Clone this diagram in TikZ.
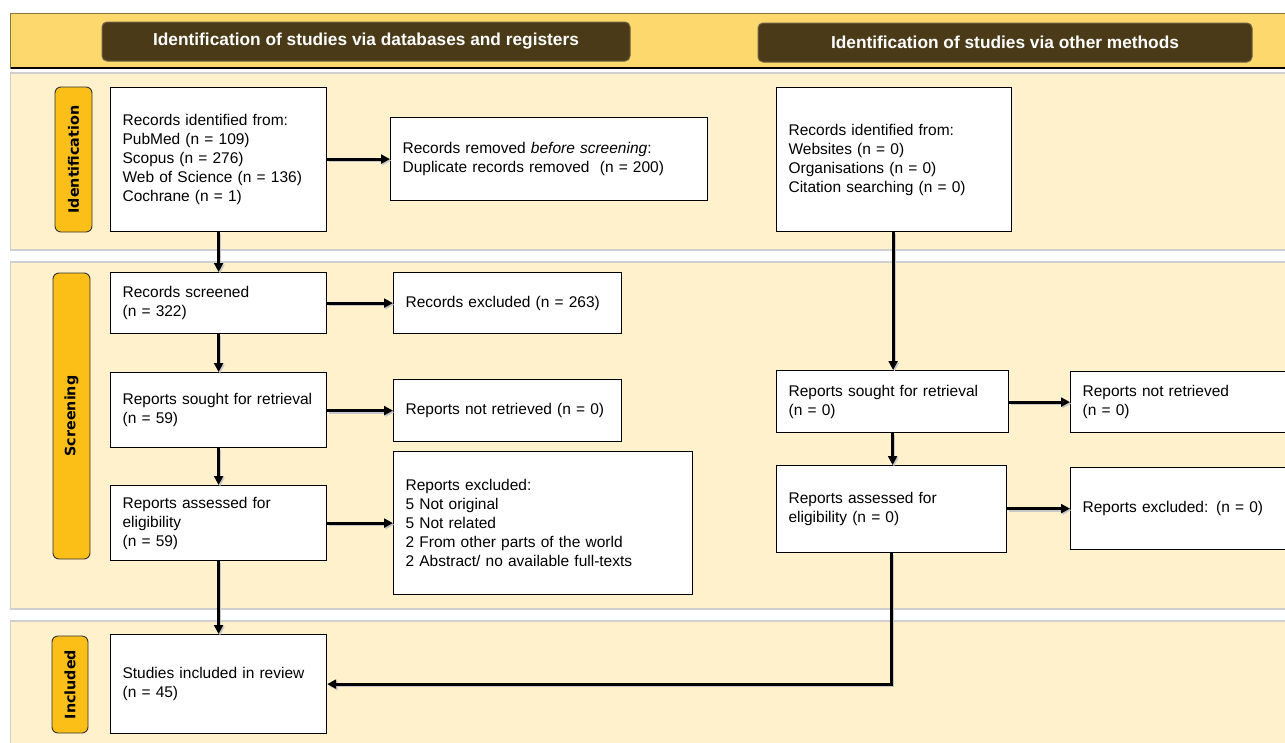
\documentclass[tikz,border=0pt]{standalone}
\usepackage{fontspec}
\setmainfont{Liberation Sans}
\newfontfamily\sidefont{DejaVu Sans}
\usetikzlibrary{arrows.meta,positioning,calc}
\definecolor{hdrband}{HTML}{FDD86C}
\definecolor{hdrbox}{HTML}{4A3A17}
\definecolor{band}{HTML}{FEF1CC}
\definecolor{pill}{HTML}{FBBF17}
\definecolor{bandline}{HTML}{CFCFCF}
\tikzset{
  box/.style={draw=black, fill=white, line width=1.2pt, inner xsep=12pt, inner ysep=0pt,
    align=left, anchor=north west, font=\fontsize{15.5}{19}\selectfont},
  hdr/.style={draw=hdrbox!80!white, fill=hdrbox, rounded corners=5pt, line width=1pt},
  hdrtext/.style={text=white, font=\bfseries\fontsize{17.3}{19}\selectfont},
  pillbox/.style={draw=black!80, fill=pill, rounded corners=6pt, line width=0.9pt},
  pilltext/.style={rotate=90, font=\sidefont\bfseries\fontsize{14.3}{16}\selectfont},
  arr/.style={line width=2.8pt, -{Triangle[length=9pt,width=9pt]},
    preaction={draw=black!22, line width=2.8pt, transform canvas={shift={(1.3pt,-1.6pt)}}}}
}
\begin{document}
\begin{tikzpicture}[x=1pt,y=-1pt]
\useasboundingbox (0,0) rectangle (1285,742);
\clip (0,0) rectangle (1285,742);
% bands
\fill[white] (0,0) rectangle (1285,742);
\draw[fill=hdrband, draw=black!45!hdrband, line width=1pt] (10.5,13) rectangle (1295,68);
\draw[black, line width=1.4pt] (10.5,68) -- (1295,68);
\draw[fill=band, draw=bandline, line width=1.4pt] (10.5,73) rectangle (1295,250);
\draw[fill=band, draw=bandline, line width=1.4pt] (10.5,262) rectangle (1295,609);
\draw[fill=band, draw=bandline, line width=1.4pt] (10.5,621) rectangle (1295,760);
% header boxes
\draw[hdr] (102,22) rectangle (630,61);
\node[hdrtext] (h1) at (366,41.5) {Identification of studies via databases and registers};
\draw[hdr] (758,23) rectangle (1252,62);
\node[hdrtext] (h2) at (1005,42.5) {Identification of studies via other methods};
% side pills
\draw[pillbox] (55,87) rectangle (92,232);
\node[pilltext] (p1) at (73.5,159.5) {Identification};
\draw[pillbox] (53,273) rectangle (90,559);
\node[pilltext] (p2) at (71.5,416) {Screening};
\draw[pillbox] (52,636) rectangle (88,733);
\node[pilltext] (p3) at (70,684.5) {Included};
% boxes left column
\node[box, text width=192pt, minimum height=144pt] (idL) at (110,87)
  {Records identified from:\\PubMed (n = 109)\\Scopus (n = 276)\\Web of Science (n = 136)\\Cochrane (n = 1)};
\node[box, text width=293pt, minimum height=83pt] (dup) at (390,117)
  {Records removed \textit{before screening}:\\Duplicate records removed\ \ (n = 200)};
\node[box, text width=192pt, minimum height=61pt] (scr) at (110,272)
  {Records screened\\(n = 322)};
\node[box, text width=204pt, minimum height=61pt] (recex) at (393,272)
  {Records excluded (n = 263)};
\node[box, text width=192pt, minimum height=75pt] (soughtL) at (110,372)
  {Reports sought for retrieval\\(n = 59)};
\node[box, text width=204pt, minimum height=62pt] (notretL) at (393,379)
  {Reports not retrieved (n = 0)};
\node[box, text width=192pt, minimum height=75pt] (assL) at (110,485)
  {Reports assessed for\\eligibility\\(n = 59)};
\node[box, text width=275pt, minimum height=143pt] (repexL) at (393,451)
  {Reports excluded:\\5 Not original\\5 Not related\\2 From other parts of the world\\2 Abstract/ no available full-texts};
\node[box, text width=192pt, minimum height=99pt] (incl) at (110,634)
  {Studies included in review\\(n = 45)};
% boxes right column
\node[box, text width=211pt, minimum height=144pt] (idR) at (776,87)
  {Records identified from:\\Websites (n = 0)\\Organisations (n = 0)\\Citation searching (n = 0)};
\node[box, text width=208pt, minimum height=62pt] (soughtR) at (776,370)
  {Reports sought for retrieval\\(n = 0)};
\node[box, text width=202pt, minimum height=61pt] (notretR) at (1070,371)
  {Reports not retrieved\\(n = 0)};
\node[box, text width=206pt, minimum height=87pt] (assR) at (776,465)
  {Reports assessed for\\eligibility (n = 0)};
\node[box, text width=202pt, minimum height=82pt] (repexR) at (1070,467)
  {Reports excluded: (n = 0)};
% connectors
\draw[arr] (idL.south) -- (scr.north);
\draw[arr] (scr.south) -- (soughtL.north);
\draw[arr] (soughtL.south) -- (assL.north);
\draw[arr] (assL.south) -- (incl.north);
\draw[arr] (idL.east |- dup.west) -- (dup.west);
\draw[arr] (scr.east) -- (recex.west);
\draw[arr] (soughtL.east |- notretL.west) -- (notretL.west);
\draw[arr] (assL.east) -- (repexL.west);
\coordinate (rc1) at ($(idR.south)+(-1,0)$);
\draw[arr] (rc1) -- (rc1 |- soughtR.north);
\coordinate (rc2) at ($(soughtR.south)+(0,0)$);
\draw[arr] (rc2) -- (rc2 |- assR.north);
\draw[arr] (soughtR.east |- notretR.west) -- (notretR.west);
\draw[arr] (assR.east |- repexR.west) -- (repexR.west);
\coordinate (corner) at (assR.south |- incl.east);
\draw[arr] (assR.south) -- (corner) -- (incl.east);
\end{tikzpicture}
\end{document}
